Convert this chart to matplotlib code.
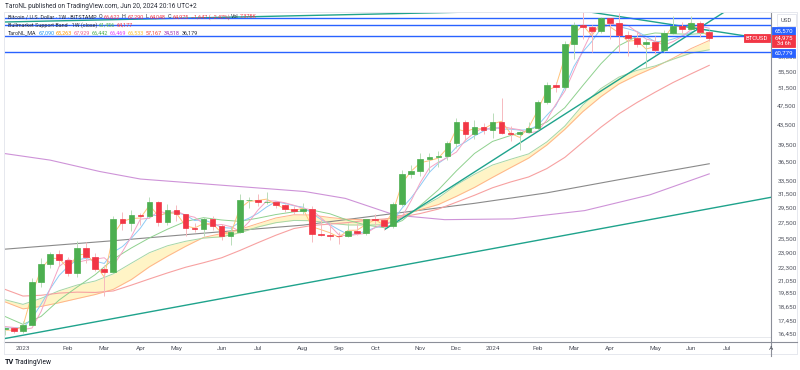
import matplotlib
matplotlib.use('Agg')
import matplotlib.pyplot as plt
from matplotlib.lines import Line2D
from matplotlib.patches import Rectangle
from matplotlib.ticker import NullLocator, FixedLocator, FixedFormatter
import numpy as np

W, H = 800, 370
FONT = ['Roboto', 'DejaVu Sans']
plt.rcParams['font.family'] = FONT

# ---------------- data (weekly BTCUSD, index 0 = week of 2 Jan 2023) ----------------
week_idx = list(range(-2, 77))
opens = [16760, 16840, 16600, 17130, 20880, 22700, 23740, 23130, 21780, 24400,
         23500, 22200, 21900, 27970, 27480, 28450, 28320, 30300, 27590, 29230,
         28650, 26780, 26700, 28050, 27100, 25900, 26330, 30500, 30590, 30300,
         30350, 29900, 29250, 29050, 29300, 26100, 26000, 25850, 25800, 26500,
         26250, 27950, 27900, 27100, 29950, 34450, 35050, 36950, 37350, 37450,
         39800, 43950, 41600, 42980, 42280, 44000, 41700, 41500, 42000, 42700,
         48250, 52100, 51700, 63150, 69000, 68400, 67200, 71300, 69450, 65800,
         64950, 63100, 63800, 61450, 66300, 68500, 67750, 69600, 66620]
highs = [16960, 16970, 17400, 21260, 23370, 23950, 24250, 23460, 25250, 25120,
         23900, 22600, 28400, 28900, 29200, 28800, 31000, 30490, 30020, 29820,
         28660, 27470, 28250, 28440, 27400, 27150, 31430, 31000, 31500, 31800,
         30350, 30000, 29700, 30200, 29700, 28100, 27550, 26400, 27450, 27450,
         28000, 28600, 27900, 30300, 35200, 35950, 38000, 37950, 38400, 40200,
         44700, 44300, 44300, 43800, 45900, 49050, 43200, 42200, 43850, 48600,
         52800, 53000, 64000, 69900, 73800, 68900, 71700, 71300, 72800, 67200,
         67200, 64700, 65500, 67400, 71900, 70000, 71900, 70150, 67290]
lows = [16300, 16470, 16500, 17120, 20400, 22300, 22500, 21450, 21370, 22760,
        21970, 19570, 21850, 26600, 26500, 27200, 28170, 27130, 27200, 27700,
        25850, 26350, 25880, 26600, 25350, 24800, 26250, 29500, 29700, 29950,
        29500, 28900, 28600, 28700, 25200, 25800, 25350, 24900, 25700, 26000,
        25950, 27200, 26550, 26900, 29700, 33900, 34100, 34800, 35600, 36800,
        39000, 40200, 40500, 41500, 40750, 41500, 40280, 38500, 41800, 42250,
        47700, 50600, 50900, 59000, 64600, 60800, 66500, 64500, 60800, 59700,
        62400, 56500, 60200, 60700, 66100, 66600, 67500, 65100, 64048]
closes = [16840, 16600, 17130, 20880, 22700, 23740, 23130, 21780, 24400, 23500,
          22200, 21900, 27970, 27480, 28450, 28320, 30300, 27590, 29230, 28650,
          26780, 26700, 28050, 27100, 25900, 26330, 30500, 30590, 30300, 30350,
          29900, 29250, 29050, 29300, 26100, 26000, 25850, 25800, 26500, 26250,
          27950, 27900, 27100, 29950, 34450, 35050, 36950, 37350, 37450, 39800,
          43950, 41600, 42980, 42280, 44000, 41700, 41500, 42000, 42700, 48250,
          52100, 51700, 63150, 69000, 68400, 67200, 71300, 69450, 65800, 64950,
          63100, 63800, 61450, 66300, 68500, 67750, 69600, 66620, 64975]

# fast averages, one value per week (thousand USD)
ma_blue_k = [16.85, 16.88, 16.88, 17.64, 18.83, 20.21, 21.52, 22.45, 23.15, 23.31,
             23.0, 22.76, 23.99, 24.61, 25.6, 26.82, 28.5, 28.43, 28.78, 28.82,
             28.51, 27.79, 27.88, 27.46, 26.91, 26.82, 27.58, 28.08, 28.72, 29.61,
             30.33, 30.08, 29.77, 29.57, 28.72, 27.94, 27.26, 26.61, 26.05, 26.08,
             26.47, 26.88, 27.14, 27.83, 29.47, 30.89, 32.7, 34.75, 36.25, 37.32,
             39.1, 40.03, 41.16, 42.12, 42.96, 42.51, 42.49, 42.3, 42.38, 43.23,
             45.31, 47.35, 51.58, 56.84, 60.87, 63.89, 67.81, 69.07, 68.43, 67.74,
             66.92, 65.42, 63.82, 63.92, 64.63, 65.56, 66.72, 67.76, 67.09]
ma_orange_k = [16.70, 16.68, 17.01, 19.75, 22.16, 23.33, 23.29, 22.23, 23.67, 23.79,
               22.69, 21.36, 26.07, 27.66, 28.05, 28.11, 29.82, 28.40, 28.82, 28.72,
               27.10, 26.84, 27.39, 27.38, 26.22, 26.09, 29.39, 30.36, 30.50, 30.70,
               29.92, 29.38, 29.12, 29.40, 27.00, 26.63, 26.25, 25.70, 26.55, 26.57,
               27.30, 27.90, 27.18, 29.05, 33.12, 34.97, 36.35, 36.70, 37.15, 38.93,
               42.55, 42.03, 42.59, 42.53, 43.55, 44.08, 41.66, 40.90, 42.78, 46.37,
               50.87, 51.77, 59.35, 65.97, 68.93, 65.63, 69.83, 68.42, 66.47, 63.95,
               64.23, 61.67, 62.38, 64.80, 68.83, 68.12, 69.67, 67.29, 65.26]
ma_pink_k = [16.98, 16.90, 16.73, 16.86, 18.20, 20.24, 22.44, 23.19, 22.88, 23.10,
             23.23, 23.37, 22.53, 24.02, 25.78, 27.97, 28.08, 29.02, 28.74, 29.04,
             28.49, 28.22, 27.38, 27.18, 27.28, 27.02, 26.44, 27.58, 29.14, 30.46,
             30.41, 30.18, 29.83, 29.40, 29.20, 28.15, 27.13, 25.98, 25.88, 26.05,
             26.18, 26.90, 27.37, 27.65, 28.32, 30.50, 33.15, 35.48, 36.45, 37.25,
             38.20, 40.40, 41.78, 42.84, 42.29, 43.09, 42.66, 42.40, 41.73, 42.07,
             44.32, 47.68, 50.68, 55.65, 61.28, 66.85, 68.20, 68.97, 69.32, 68.85,
             66.73, 64.62, 63.95, 62.78, 63.85, 65.42, 67.52, 68.62, 67.93]

# slower averages, every second week (thousand USD)
slow_idx = list(range(-2, 77, 2))
ma_green_k = [17.79, 17.15, 17.79, 19.20, 20.40, 21.61, 23.22, 24.46, 25.63, 26.69,
              27.67, 28.16, 27.86, 27.68, 28.09, 28.57, 28.93, 29.17, 28.67, 27.81,
              27.21, 26.88, 27.78, 29.79, 32.04, 35.00, 37.95, 40.14, 41.26, 42.25,
              43.91, 46.94, 52.05, 57.58, 62.64, 65.41, 66.45, 66.19, 66.07, 66.44]
band_sma_k = [19.04, 18.43, 18.64, 18.96, 19.33, 19.70, 20.18, 21.12, 22.41, 23.54,
              24.64, 25.69, 26.16, 26.66, 27.39, 28.12, 28.54, 28.51, 28.18, 27.95,
              27.89, 27.90, 28.47, 29.23, 29.93, 31.10, 32.41, 33.96, 35.53, 37.15,
              39.45, 42.45, 46.10, 49.42, 52.44, 54.66, 56.69, 59.12, 61.83, 64.18]
band_ema_k = [19.23, 18.82, 19.35, 20.05, 20.59, 20.98, 21.69, 22.79, 23.93, 24.71,
              25.23, 25.61, 25.76, 26.24, 26.96, 27.51, 27.80, 27.76, 27.44, 27.22,
              27.21, 27.25, 28.13, 29.50, 30.87, 32.80, 34.45, 35.97, 36.94, 37.88,
              40.03, 43.10, 47.54, 51.33, 54.14, 55.85, 57.01, 58.82, 60.54, 61.46]
ma_red_k = [20.18, 19.56, 19.63, 19.83, 19.92, 19.89, 20.03, 20.58, 21.18, 21.78,
            22.36, 22.84, 23.37, 24.17, 25.06, 25.95, 26.77, 27.16, 27.33, 27.53,
            27.81, 27.99, 28.27, 28.71, 29.31, 30.26, 31.25, 32.36, 33.24, 34.03,
            35.37, 37.26, 39.99, 42.88, 45.64, 48.10, 50.45, 52.79, 54.97, 57.17]

# very slow averages, read at a few points
gray_idx = [-2.3, 10, 20, 31, 41, 50, 58, 66, 76]
ma_gray_k = [24.3, 25.3, 26.2, 27.2, 28.7, 30.1, 31.6, 33.6, 36.18]
purple_idx = [-2.3, 3, 8.5, 13, 19.6, 31.2, 35.7, 41.2, 46.7, 54.2, 62.2, 69.4, 76]
ma_purple_k = [38.0, 36.8, 34.9, 33.7, 33.0, 31.8, 30.8, 28.5, 27.9, 28.0, 29.1, 31.3, 34.52]

# drawings: trendlines (week index, price) and horizontal levels
tl_support = ([-2.6, 82.9], [15980, 30970])
tl_rise = ([40.09, 78.85], [26680, 75600])
tl_fall = ([62.05, 82.9], [73600, 64330])
tl_top = ([-2.6, 63.9], [69900, 74200])
h_levels = [71400, 69000, 65570, 60779]

price_ticks = [16450, 17450, 18650, 19850, 21050, 22300, 23900, 25500, 27500, 29500,
               31500, 33500, 36500, 39500, 43500, 47500, 51500, 55500, 59500]
month_pos = [0, 5, 9, 13, 17, 22, 26, 31, 35, 39, 44, 48, 52, 57, 61, 65, 70, 74, 78]
month_lab = ['2023', 'Feb', 'Mar', 'Apr', 'May', 'Jun', 'Jul', 'Aug', 'Sep', 'Oct',
             'Nov', 'Dec', '2024', 'Feb', 'Mar', 'Apr', 'May', 'Jun', 'Jul']

# ---------------- figure ----------------
fig = plt.figure(figsize=(W / 100, H / 100), dpi=100)
fig.patch.set_facecolor('white')
L, R, T, B = 4, 771, 12, 342
ax = fig.add_axes([L / W, 1 - B / H, (R - L) / W, (B - T) / H])
ax.set_facecolor('white')
ax.set_yscale('log')
ax.set_xlim(-2.104, 82.84)
ax.set_ylim(15798, 73260)

k = 1000.0
# slow lines
ax.plot(purple_idx, np.array(ma_purple_k) * k, color='#ce93d8', lw=0.8, zorder=2)
ax.plot(gray_idx, np.array(ma_gray_k) * k, color='#8a8a8a', lw=0.8, zorder=2)
ax.fill_between(slow_idx, np.array(band_sma_k) * k, np.array(band_ema_k) * k,
                color='#fff4c6', lw=0, zorder=1)
ax.plot(slow_idx, np.array(band_sma_k) * k, color='#ffb38a', lw=0.7, zorder=2)
ax.plot(slow_idx, np.array(band_ema_k) * k, color='#a5d6a7', lw=0.7, zorder=2)
ax.plot(slow_idx, np.array(ma_red_k) * k, color='#f7a1a1', lw=0.8, zorder=2)
ax.plot(slow_idx, np.array(ma_green_k) * k, color='#8fd18f', lw=0.7, zorder=2)
# fast lines
ax.plot(week_idx, np.array(ma_blue_k) * k, color='#8ecbf5', lw=0.7, zorder=2)
ax.plot(week_idx, np.array(ma_pink_k) * k, color='#f5a3c4', lw=0.7, zorder=2)
ax.plot(week_idx, np.array(ma_orange_k) * k, color='#ffc47a', lw=0.7, zorder=2)

# trendlines and levels
teal = '#1fa38c'
for xs, ys in (tl_support, tl_rise, tl_fall, tl_top):
    ax.plot(xs, ys, color=teal, lw=1.0, zorder=3)
for lv in h_levels:
    ax.axhline(lv, color='#2962ff', lw=1.0, zorder=3)

# candles
x = np.array(week_idx, dtype=float)
o = np.array(opens, dtype=float)
h = np.array(highs, dtype=float)
l = np.array(lows, dtype=float)
c = np.array(closes, dtype=float)
up = c >= o
body_col = np.where(up, '#4caf50', '#f23645')
wick_col = np.where(up, '#b9dcb9', '#f6b9be')
ax.vlines(x, l, h, colors=wick_col, lw=0.7, zorder=4)
ax.bar(x, np.abs(c - o), bottom=np.minimum(o, c), width=0.62, color=body_col,
       edgecolor=body_col, linewidth=0.5, zorder=5)

# axes styling
for s in ('top', 'left'):
    ax.spines[s].set_color('#e6e8ee')
    ax.spines[s].set_linewidth(0.7)
ax.spines['right'].set_color('#8c8f99')
ax.spines['right'].set_linewidth(0.8)
ax.spines['bottom'].set_color('#8c8f99')
ax.spines['bottom'].set_linewidth(0.8)
ax.yaxis.tick_right()
ax.yaxis.set_major_locator(FixedLocator(price_ticks))
ax.yaxis.set_major_formatter(FixedFormatter([f'{v:,}' for v in price_ticks]))
ax.yaxis.set_minor_locator(NullLocator())
ax.tick_params(axis='y', which='both', length=0, pad=4.5, labelsize=4.6, labelcolor='#50535e')
ax.xaxis.set_major_locator(FixedLocator(month_pos))
ax.xaxis.set_major_formatter(FixedFormatter(month_lab))
ax.xaxis.set_minor_locator(NullLocator())
ax.tick_params(axis='x', which='both', length=0, pad=3.0, labelsize=4.6, labelcolor='#50535e')
ax.plot([0, 1], [0.0145, 0.0145], transform=ax.transAxes, color='#e3e5ea', lw=0.6, zorder=1)


def fx(px):
    return px / W


def fy(py):
    return 1 - py / H


def fline(x0, y0, x1, y1, col, lw):
    fig.add_artist(Line2D([fx(x0), fx(x1)], [fy(y0), fy(y1)], color=col, lw=lw))


# outer frame
fline(4, 12, 797, 12, '#e6e8ee', 0.7)
fline(797, 12, 797, 354, '#e6e8ee', 0.7)
fline(4, 354, 797, 354, '#e6e8ee', 0.7)
fline(4, 12, 4, 354, '#e6e8ee', 0.7)
fline(771, 342, 771, 356, '#8c8f99', 0.8)
fline(771, 342, 797, 342, '#8c8f99', 0.8)
fig.text(fx(768.5), fy(348), 'A', fontsize=4.6, color='#50535e', ha='left', va='center')


def box(x0, y0, x1, y1, fc, ec=None):
    fig.add_artist(Rectangle((fx(x0), fy(y1)), (x1 - x0) / W, (y1 - y0) / H,
                             transform=fig.transFigure, facecolor=fc,
                             edgecolor=ec if ec else fc, lw=0.6, zorder=5))


def btext(xp, yp, s, col, size=4.5, ha='center', weight='normal'):
    fig.text(fx(xp), fy(yp), s, color=col, fontsize=size, ha=ha, va='center',
             zorder=6, fontweight=weight)


# price scale labels
box(777, 14, 796, 26, 'white', '#e0e3eb')
btext(786.5, 20, 'USD', '#50535e', 4.3)
box(772, 27.5, 795, 34.5, '#2962ff')
btext(783.5, 31, '65,570', 'white', 4.4)
box(772, 34.5, 795, 47, '#f23645')
btext(783.5, 38, '64,975', 'white', 4.4)
btext(783.5, 43.5, '3d 6h', 'white', 4.0)
box(772, 49, 795, 56.5, '#2962ff')
btext(783.5, 52.7, '60,779', 'white', 4.4)
box(744, 34.5, 770, 42, '#f23645')
btext(757, 38.2, 'BTCUSD', 'white', 4.3)

# header and legends
fig.text(fx(5), fy(6), 'TaroNL published on TradingView.com, Jun 20, 2024 20:16 UTC+2',
         fontsize=4.7, color='#2a2e39', ha='left', va='center')

renderer = fig.canvas.get_renderer()


def seq(xp, yp, parts, size=3.9, gap=1.7):
    cur = xp
    for s, col in parts:
        t = fig.text(fx(cur), fy(yp), s, color=col, fontsize=size, ha='left', va='center', zorder=6)
        bb = t.get_window_extent(renderer=renderer)
        cur += bb.width + gap


red = '#f23645'
dark = '#2a2e39'
seq(8, 17, [('Bitcoin / U.S. Dollar · 1W · BITSTAMP', dark), ('O', dark), ('66,622', red),
            ('H', dark), ('67,290', red), ('L', dark), ('64,048', red), ('C', dark),
            ('64,975', red), ('−1,647 (−2.47%)', red), ('Vol', dark), ('7.378K', red)])
seq(8, 25, [('Bullmarket Support Band · 1W (close)', dark), ('61,456', '#4caf50'),
            ('64,177', red)])
seq(8, 33, [('TaroNL_MA', dark), ('67,090', '#2196f3'), ('65,263', '#ff9800'),
            ('67,929', '#f06292'), ('66,442', '#4caf50'), ('66,469', '#e040fb'),
            ('66,533', '#fbc02d'), ('57,167', '#f44336'), ('34,518', '#9c27b0'),
            ('36,179', dark)])

# TradingView logo
fig.text(fx(5), fy(362), 'TV', fontsize=5.2, color='#131722', fontweight='bold',
         ha='left', va='center')
fig.text(fx(15), fy(362), 'TradingView', fontsize=4.8, color='#131722', ha='left', va='center')

fig.savefig('out.png', dpi=100, facecolor='white')
